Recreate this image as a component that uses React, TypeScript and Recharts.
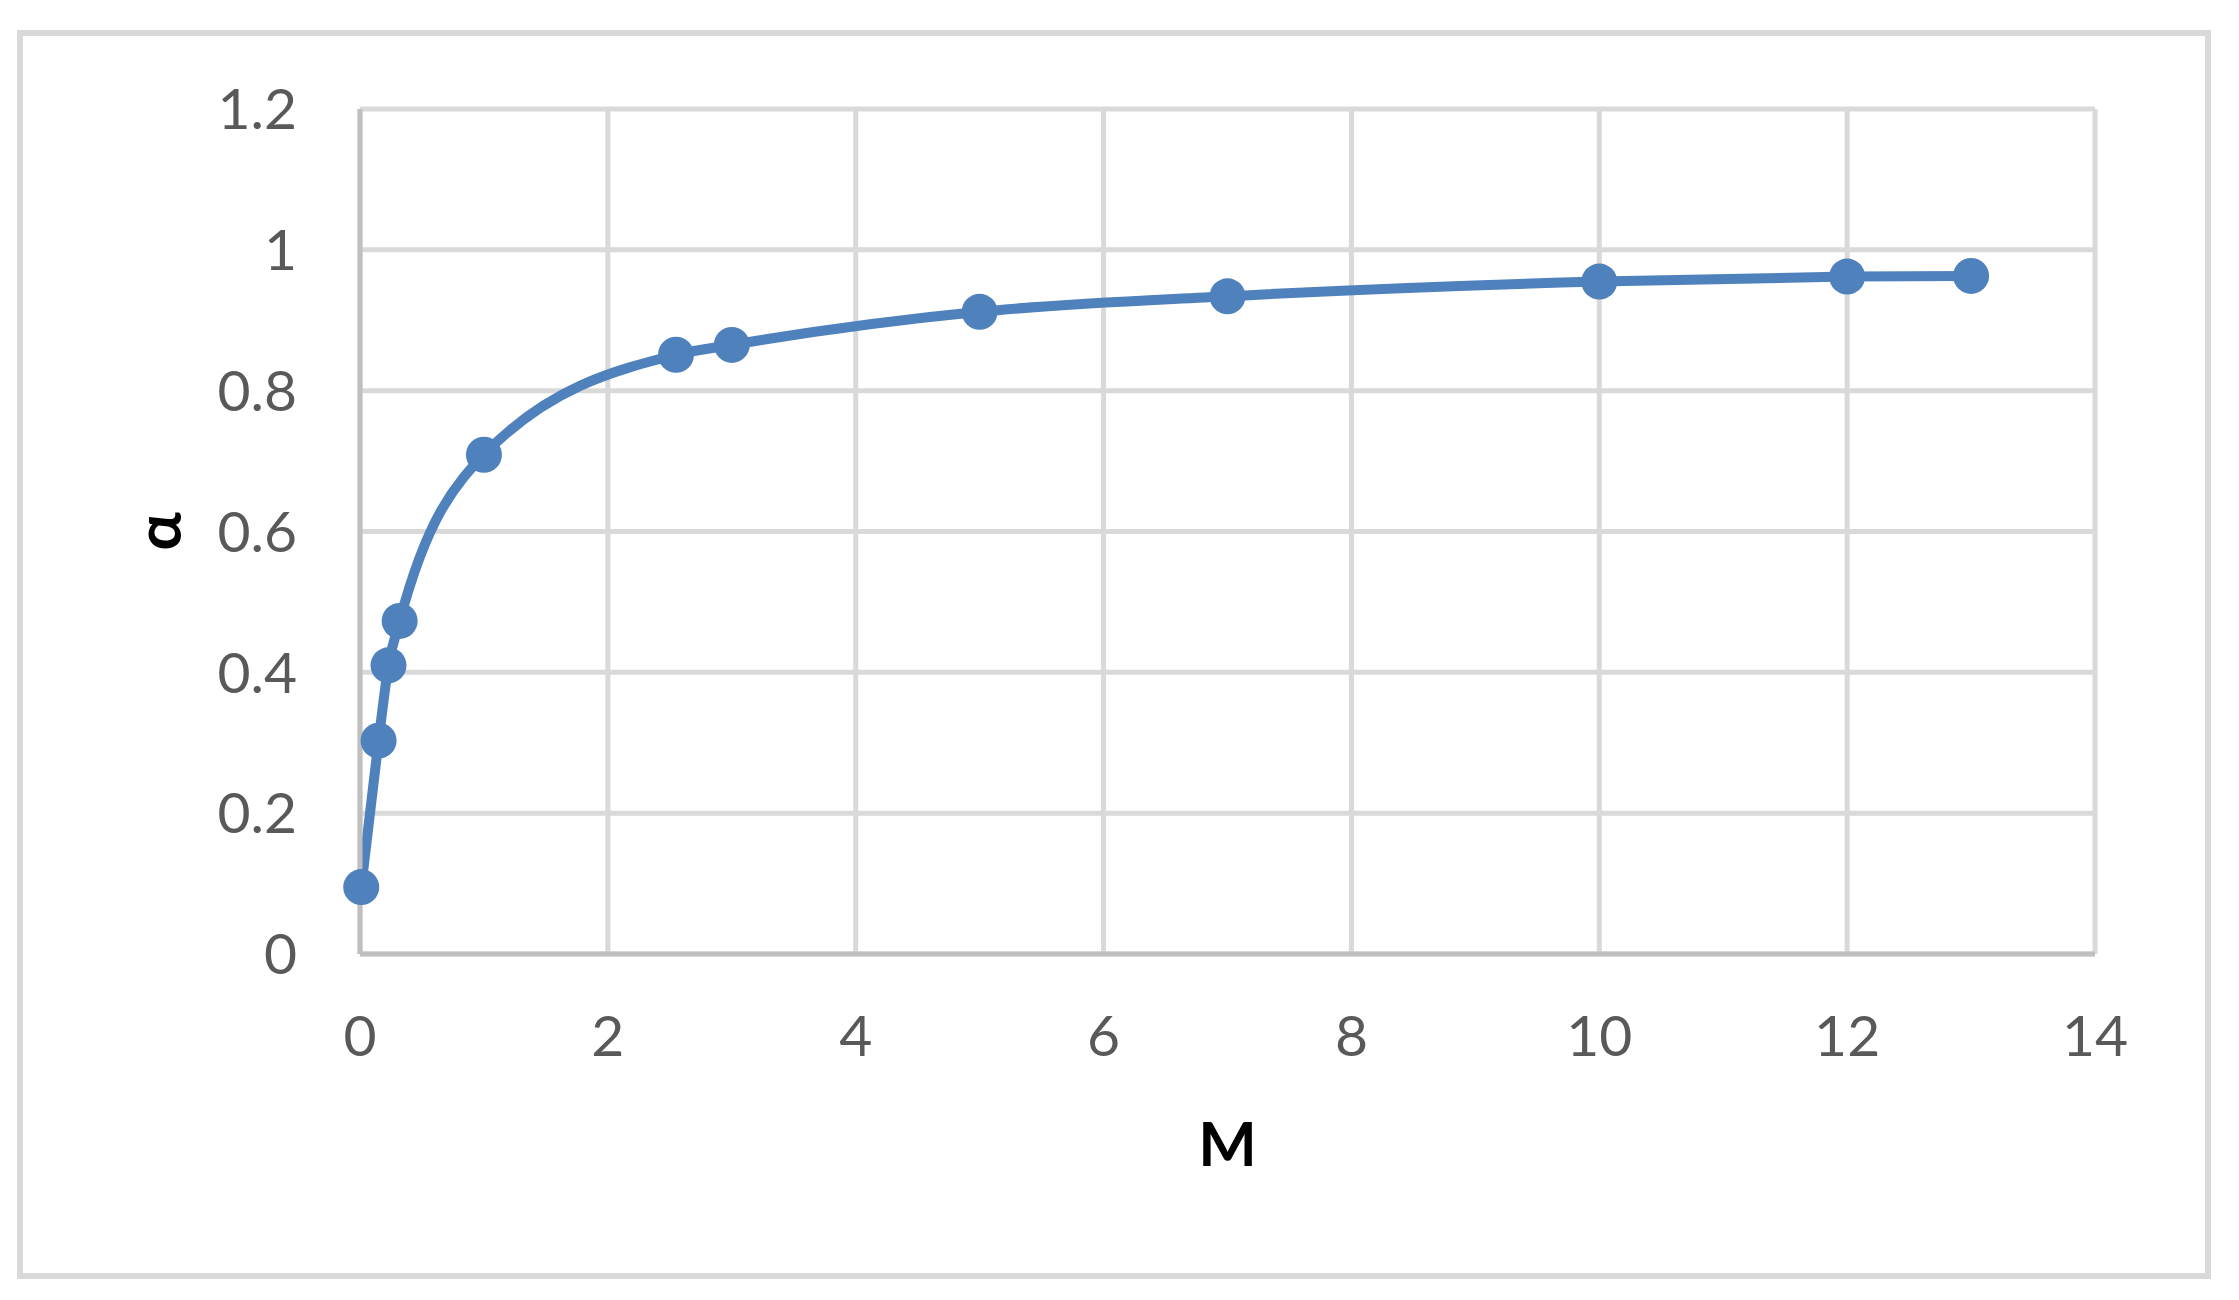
import { CartesianGrid, Line, LineChart, XAxis, YAxis } from "recharts";

// M values (x) and alpha values (y)
const mValues = [0.01, 0.15, 0.23, 0.32, 1, 2.55, 3, 5, 7, 10, 12, 13];
const alphaValues = [0.095, 0.303, 0.41, 0.473, 0.709, 0.851, 0.865, 0.912, 0.934, 0.955, 0.962, 0.963];

const xTicks = [0, 2, 4, 6, 8, 10, 12, 14];
const yTicks = [0, 0.2, 0.4, 0.6, 0.8, 1, 1.2];

const data = mValues.map((m, i) => ({ m, alpha: alphaValues[i] }));

const FONT = "Lato, 'Open Sans', sans-serif";
const BLUE = "#4f81bd";

function AlphaLabel({ viewBox }: { viewBox?: { x: number; y: number; width: number; height: number } }) {
  if (!viewBox) return null;
  const cx = viewBox.x - 75;
  const cy = viewBox.y + viewBox.height / 2;
  return (
    <text
      x={cx}
      y={cy}
      transform={`rotate(-90 ${cx} ${cy})`}
      textAnchor="middle"
      dy="0.25em"
      fontFamily={FONT}
      fontWeight={700}
      fontSize={64}
      fill="#000"
    >
      α
    </text>
  );
}

export default function App() {
  return (
    <div style={{ position: "absolute", left: 0, top: 0, width: 2239, height: 1300, background: "#fff" }}>
      {/* chart frame */}
      <div
        style={{
          position: "absolute",
          left: 17,
          top: 30,
          width: 2194,
          height: 1249,
          border: "6px solid #d9d9d9",
          boxSizing: "border-box",
        }}
      />
      <div style={{ position: "absolute", left: 0, top: 0 }}>
        <LineChart width={2239} height={1300} data={data} margin={{ top: 109, right: 144, bottom: 226, left: 240 }}>
          <CartesianGrid stroke="#d9d9d9" strokeWidth={5} />
          <XAxis
            type="number"
            dataKey="m"
            domain={[0, 14]}
            ticks={xTicks}
            height={120}
            axisLine={{ stroke: "#bfbfbf", strokeWidth: 5 }}
            tickLine={false}
            tickMargin={56}
            tick={{ fill: "#595959", fontSize: 57, fontFamily: FONT }}
            label={{
              value: "M",
              position: "bottom",
              offset: 48,
              fill: "#000",
              fontSize: 62,
              fontWeight: 700,
              fontFamily: FONT,
            }}
          />
          <YAxis
            type="number"
            domain={[0, 1.2]}
            ticks={yTicks}
            width={120}
            axisLine={{ stroke: "#bfbfbf", strokeWidth: 5 }}
            tickLine={false}
            tickMargin={57}
            tick={{ fill: "#595959", fontSize: 57, fontFamily: FONT }}
            label={<AlphaLabel />}
          />
          <Line
            type="monotone"
            dataKey="alpha"
            stroke={BLUE}
            strokeWidth={10}
            dot={{ r: 18, fill: BLUE, stroke: "none" }}
            activeDot={false}
            isAnimationActive={false}
          />
        </LineChart>
      </div>
    </div>
  );
}
